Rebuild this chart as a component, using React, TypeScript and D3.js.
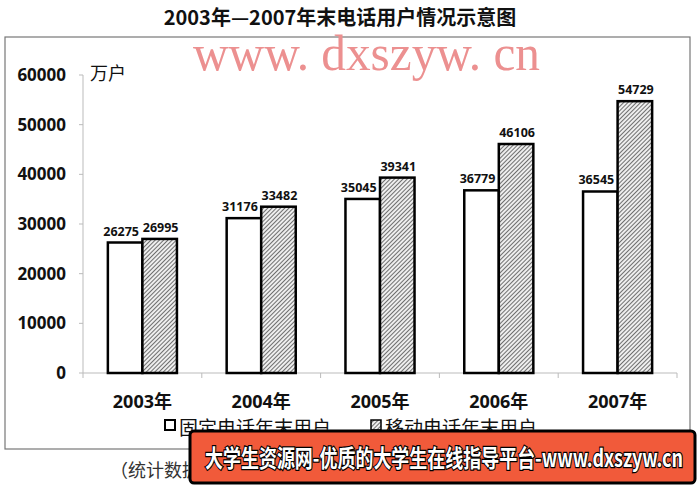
import { useMemo } from 'react';
import * as d3 from 'd3';

// 2003-2007 year-end telephone subscribers (10k users)
const years = ['2003年', '2004年', '2005年', '2006年', '2007年'];
const fixedUsers = [26275, 31176, 35045, 36779, 36545];
const mobileUsers = [26995, 33482, 39341, 46106, 54729];
const seriesNames = ['固定电话年末用户', '移动电话年末用户'];
const yTicks = [0, 10000, 20000, 30000, 40000, 50000, 60000];

const W = 700;
const H = 487;
const latin = '"Open Sans", "Noto Sans", "Noto Sans CJK SC", sans-serif';
const cjk = '"Noto Sans CJK SC", "Noto Sans", sans-serif';

export default function App() {
	const x = useMemo(() => d3.scaleBand<string>().domain(years).range([83, 677]).padding(0), []);
	const inner = useMemo(
		() => d3.scaleBand<string>().domain(['fixed', 'mobile']).range([0, x.bandwidth()]).paddingOuter(0.72).paddingInner(0),
		[x]
	);
	const y = useMemo(() => d3.scaleLinear().domain([0, 60000]).range([373, 75]), []);

	const rows = years.map((yr, i) => ({ yr, fixed: fixedUsers[i], mobile: mobileUsers[i] }));

	return (
		<svg width={W} height={H} style={{ position: 'absolute', left: 0, top: 0, background: '#fff' }}>
			<defs>
				<pattern id="hatch" width="3" height="3" patternUnits="userSpaceOnUse" patternTransform="rotate(45)">
					<rect width="3" height="3" fill="#eee" />
					<line x1="0" y1="0" x2="0" y2="3" stroke="#444" strokeWidth="1.5" />
				</pattern>
			</defs>

			{/* title */}
			<text x={340} y={25} textAnchor="middle" fontFamily={cjk} fontWeight="bold" fontSize={20} fill="#111">
				2003年—2007年末电话用户情况示意图
			</text>

			{/* chart frame */}
			<rect x={5} y={37} width={685} height={412} fill="none" stroke="#777" strokeWidth={1.2} />

			{/* watermark */}
			<text x={193} y={70} fontFamily='"Liberation Serif", "DejaVu Serif", serif' fontSize={50} fill="#ec9090" textLength={347} lengthAdjust="spacingAndGlyphs">
				www. dxszyw. cn
			</text>

			{/* y axis */}
			<line x1={83} x2={83} y1={y(60000)} y2={y(0)} stroke="#bbb" />
			{yTicks.map((t) => (
				<g key={t}>
					<line x1={79} x2={83} y1={y(t)} y2={y(t)} stroke="#bbb" />
					<text x={66} y={y(t)} dy="0.36em" textAnchor="end" fontFamily={latin} fontWeight="bold" fontSize={17} fill="#111">
						{t}
					</text>
				</g>
			))}
			<text x={90} y={80} fontFamily={cjk} fontSize={18} fill="#111">
				万户
			</text>

			{/* x axis */}
			<line x1={83} x2={677} y1={y(0)} y2={y(0)} stroke="#bbb" />
			{[...years.map((yr) => x(yr) as number), 677].map((px, i) => (
				<line key={i} x1={px} x2={px} y1={y(0)} y2={y(0) + 5} stroke="#bbb" />
			))}
			{years.map((yr) => (
				<text key={yr} x={(x(yr) as number) + x.bandwidth() / 2} y={408} textAnchor="middle" fontFamily={latin} fontWeight="bold" fontSize={18} fill="#111">
					{yr}
				</text>
			))}

			{/* bars */}
			{rows.map((r) => {
				const x0 = x(r.yr) as number;
				return (
					<g key={r.yr}>
						{(['fixed', 'mobile'] as const).map((k) => {
							const bx = x0 + (inner(k) as number);
							const v = r[k];
							const shift = k === 'fixed' ? -4 : 1;
							return (
								<g key={k}>
									<rect
										x={bx}
										y={y(v)}
										width={inner.bandwidth()}
										height={y(0) - y(v)}
										fill={k === 'fixed' ? '#fff' : 'url(#hatch)'}
										stroke="#000"
										strokeWidth={2.5}
									/>
									<text x={bx + inner.bandwidth() / 2 + shift} y={y(v) - 7} textAnchor="middle" fontFamily={latin} fontWeight="bold" fontSize={12.5} fill="#111">
										{v}
									</text>
								</g>
							);
						})}
					</g>
				);
			})}

			{/* legend */}
			<rect x={165} y={420} width={10} height={10} fill="#fff" stroke="#000" strokeWidth={2} />
			<text x={179} y={435} fontFamily={cjk} fontSize={19} fill="#111">
				{seriesNames[0]}
			</text>
			<rect x={371} y={420} width={10} height={10} fill="url(#hatch)" stroke="#000" strokeWidth={1.5} />
			<text x={385} y={435} fontFamily={cjk} fontSize={19} fill="#111">
				{seriesNames[1]}
			</text>

			{/* source note */}
			<text x={110} y={477} fontFamily={cjk} fontSize={18} fill="#333">
				（统计数据来源：国家统计局）
			</text>

			{/* banner */}
			<rect x={190} y={431} width={505} height={52} rx={4} fill="#f15a3a" stroke="#000" strokeWidth={3} />
			<text
				x={205}
				y={467}
				fontFamily={cjk}
				fontWeight="bold"
				fontSize={24}
				fill="#fff"
				stroke="#000"
				strokeWidth={2.5}
				paintOrder="stroke"
				textLength={478}
				lengthAdjust="spacingAndGlyphs"
			>
				大学生资源网-优质的大学生在线指导平台-www.dxszyw.cn
			</text>
		</svg>
	);
}
